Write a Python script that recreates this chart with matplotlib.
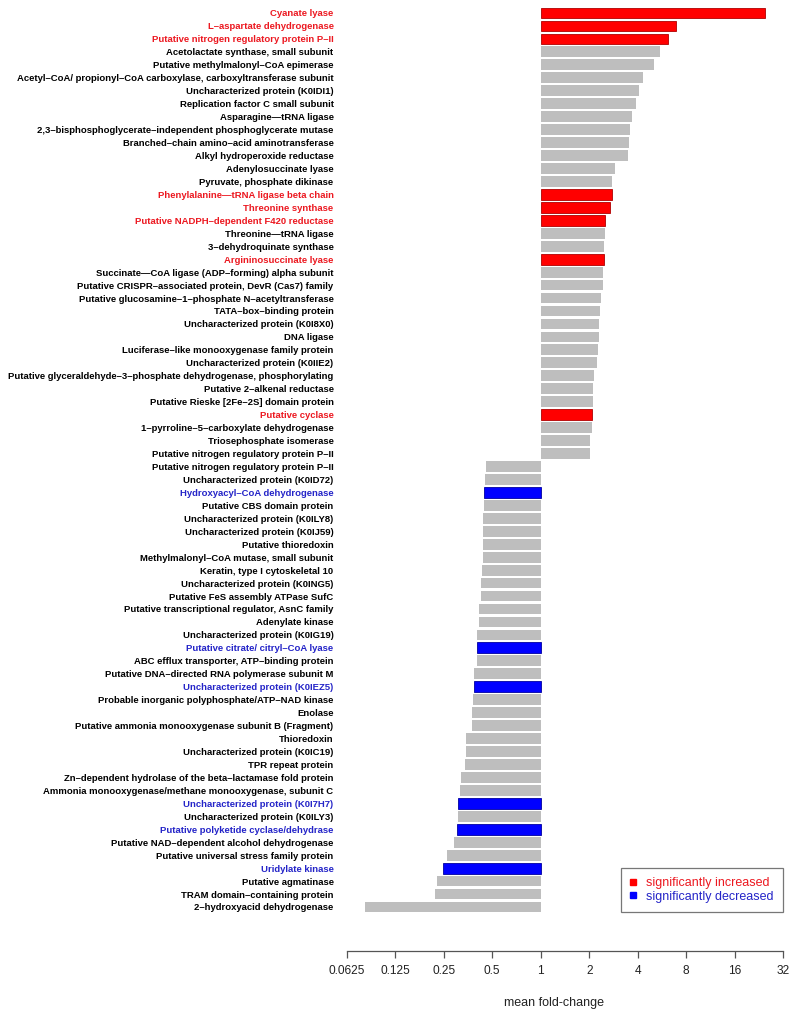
import matplotlib
matplotlib.use("Agg")
import matplotlib.pyplot as plt
from matplotlib.lines import Line2D
import numpy as np

plt.rcParams['font.family'] = ['Liberation Sans', 'DejaVu Sans']

proteins = [
    "Cyanate lyase",
    "L\u2013aspartate dehydrogenase",
    "Putative nitrogen regulatory protein P\u2013II",
    "Acetolactate synthase, small subunit",
    "Putative methylmalonyl\u2013CoA epimerase",
    "Acetyl\u2013CoA/ propionyl\u2013CoA carboxylase, carboxyltransferase subunit",
    "Uncharacterized protein (K0IDI1)",
    "Replication factor C small subunit",
    "Asparagine\u2014tRNA ligase",
    "2,3\u2013bisphosphoglycerate\u2013independent phosphoglycerate mutase",
    "Branched\u2013chain amino\u2013acid aminotransferase",
    "Alkyl hydroperoxide reductase",
    "Adenylosuccinate lyase",
    "Pyruvate, phosphate dikinase",
    "Phenylalanine\u2014tRNA ligase beta chain",
    "Threonine synthase",
    "Putative NADPH\u2013dependent F420 reductase",
    "Threonine\u2014tRNA ligase",
    "3\u2013dehydroquinate synthase",
    "Argininosuccinate lyase",
    "Succinate\u2014CoA ligase (ADP\u2013forming) alpha subunit",
    "Putative CRISPR\u2013associated protein, DevR (Cas7) family",
    "Putative glucosamine\u20131\u2013phosphate N\u2013acetyltransferase",
    "TATA\u2013box\u2013binding protein",
    "Uncharacterized protein (K0I8X0)",
    "DNA ligase",
    "Luciferase\u2013like monooxygenase family protein",
    "Uncharacterized protein (K0IIE2)",
    "Putative glyceraldehyde\u20133\u2013phosphate dehydrogenase, phosphorylating",
    "Putative 2\u2013alkenal reductase",
    "Putative Rieske [2Fe\u20132S] domain protein",
    "Putative cyclase",
    "1\u2013pyrroline\u20135\u2013carboxylate dehydrogenase",
    "Triosephosphate isomerase",
    "Putative nitrogen regulatory protein P\u2013II",
    "Putative nitrogen regulatory protein P\u2013II",
    "Uncharacterized protein (K0ID72)",
    "Hydroxyacyl\u2013CoA dehydrogenase",
    "Putative CBS domain protein",
    "Uncharacterized protein (K0ILY8)",
    "Uncharacterized protein (K0IJ59)",
    "Putative thioredoxin",
    "Methylmalonyl\u2013CoA mutase, small subunit",
    "Keratin, type I cytoskeletal 10",
    "Uncharacterized protein (K0ING5)",
    "Putative FeS assembly ATPase SufC",
    "Putative transcriptional regulator, AsnC family",
    "Adenylate kinase",
    "Uncharacterized protein (K0IG19)",
    "Putative citrate/ citryl\u2013CoA lyase",
    "ABC efflux transporter, ATP\u2013binding protein",
    "Putative DNA\u2013directed RNA polymerase subunit M",
    "Uncharacterized protein (K0IEZ5)",
    "Probable inorganic polyphosphate/ATP\u2013NAD kinase",
    "Enolase",
    "Putative ammonia monooxygenase subunit B (Fragment)",
    "Thioredoxin",
    "Uncharacterized protein (K0IC19)",
    "TPR repeat protein",
    "Zn\u2013dependent hydrolase of the beta\u2013lactamase fold protein",
    "Ammonia monooxygenase/methane monooxygenase, subunit C",
    "Uncharacterized protein (K0I7H7)",
    "Uncharacterized protein (K0ILY3)",
    "Putative polyketide cyclase/dehydrase",
    "Putative NAD\u2013dependent alcohol dehydrogenase",
    "Putative universal stress family protein",
    "Uridylate kinase",
    "Putative agmatinase",
    "TRAM domain\u2013containing protein",
    "2\u2013hydroxyacid dehydrogenase",
]

fold_change = [
    24.6, 6.9, 6.2, 5.5, 5.05, 4.3, 4.1, 3.92, 3.69, 3.58,
    3.53, 3.47, 2.88, 2.77, 2.76, 2.69, 2.52, 2.51, 2.48, 2.46,
    2.44, 2.43, 2.37, 2.34, 2.30, 2.29, 2.28, 2.23, 2.15, 2.11,
    2.10, 2.08, 2.07, 2.02, 2.02,
    0.458, 0.451, 0.447, 0.445, 0.440, 0.438, 0.437, 0.436, 0.430, 0.428,
    0.424, 0.414, 0.413, 0.405, 0.404, 0.401, 0.386, 0.385, 0.379, 0.375,
    0.374, 0.344, 0.343, 0.339, 0.319, 0.316, 0.308, 0.306, 0.302, 0.291,
    0.263, 0.248, 0.226, 0.220, 0.0814,
]

# significance: 1 = significantly increased, -1 = significantly decreased, 0 = n.s.
significance = [
    1, 1, 1, 0, 0, 0, 0, 0, 0, 0,
    0, 0, 0, 0, 1, 1, 1, 0, 0, 1,
    0, 0, 0, 0, 0, 0, 0, 0, 0, 0,
    0, 1, 0, 0, 0,
    0, 0, -1, 0, 0, 0, 0, 0, 0, 0,
    0, 0, 0, 0, -1, 0, 0, -1, 0, 0,
    0, 0, 0, 0, 0, 0, -1, 0, -1, 0,
    0, -1, 0, 0, 0,
]

x_ticks = [0.0625, 0.125, 0.25, 0.5, 1, 2, 4, 8, 16, 32]
x_tick_labels = ["0.0625", "0.125", "0.25", "0.5", "1", "2", "4", "8", "16", "32"]
legend_labels = ["significantly increased", "significantly decreased"]

bar_colors = {1: "#FF0000", -1: "#0000FF", 0: "#BEBEBE"}
edge_colors = {1: "#B00000", -1: "#0000A0", 0: "none"}
text_colors = {1: "#EC1820", -1: "#2424C8", 0: "#000000"}

W, H = 800, 1015
fig = plt.figure(figsize=(W / 100, H / 100), dpi=100)

x_left_px, x_right_px = 346.7, 783.3
axis_y_px = 950.7
row0_px, rowN_px = 13.0, 907.0
n = len(proteins)
spacing = (rowN_px - row0_px) / (n - 1)

ax = fig.add_axes([x_left_px / W, 1 - axis_y_px / H,
                   (x_right_px - x_left_px) / W, axis_y_px / H])
ax.set_xscale("log", base=2)
ax.set_xlim(x_ticks[0], x_ticks[-1])
ymax = (n - 1) + (axis_y_px - rowN_px) / spacing
ymin = -row0_px / spacing
ax.set_ylim(ymax, ymin)

y = np.arange(n)
vals = np.array(fold_change)
for yi, v, s in zip(y, vals, significance):
    ax.barh(yi, v - 1, left=1, height=0.83, color=bar_colors[s],
            edgecolor=edge_colors[s], linewidth=0.6 if s != 0 else 0)

ax.set_yticks(y)
ax.set_yticklabels(proteins, fontsize=6.8, fontweight="bold")
for lab, s in zip(ax.get_yticklabels(), significance):
    lab.set_color(text_colors[s])
ax.tick_params(axis="y", length=0, pad=9.5)

ax.set_xticks(x_ticks)
ax.set_xticklabels(x_tick_labels, fontsize=8.6, color="#222222")
ax.xaxis.set_minor_locator(matplotlib.ticker.NullLocator())
ax.tick_params(axis="x", length=5, width=0.9, color="#555555", pad=5.5)

for sp in ["top", "right", "left"]:
    ax.spines[sp].set_visible(False)
ax.spines["bottom"].set_color("#555555")
ax.spines["bottom"].set_linewidth(0.9)

fig.text(554.5 / W, 1 - 1003 / H, "mean fold-change", fontsize=9,
         ha="center", va="center", color="#222222")

handles = [Line2D([0], [0], marker="s", linestyle="none", markersize=3.8,
                  markerfacecolor=bar_colors[s], markeredgecolor=bar_colors[s])
           for s in (1, -1)]
leg = fig.legend(handles, legend_labels, loc="lower right",
                 bbox_to_anchor=(782.5 / W, 1 - 912 / H), borderaxespad=0,
                 fontsize=9, frameon=True, fancybox=False,
                 edgecolor="#555555", handlelength=0.5, handletextpad=0.75,
                 borderpad=0.75, labelspacing=0.1,
                 labelcolor=[text_colors[1], text_colors[-1]])
leg.get_frame().set_linewidth(0.9)

fig.savefig("out.png", dpi=100)
